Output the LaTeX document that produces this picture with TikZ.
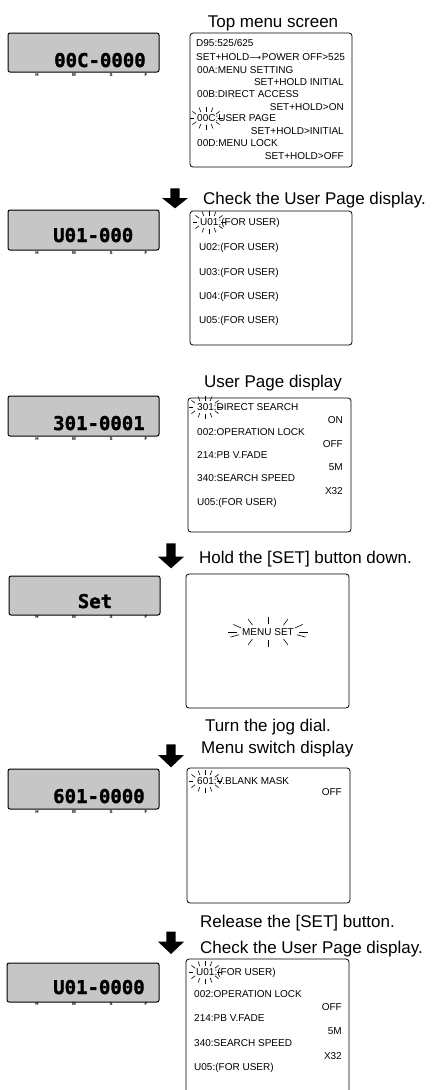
\documentclass[tikz,border=0pt]{standalone}
\usepackage{fontspec}
\setmainfont{Liberation Sans}
\newfontfamily\lcdfont{DejaVu Sans Mono}[BoldFeatures={FakeBold=1.6}]
\newfontfamily\symfont{DejaVu Sans}
\usetikzlibrary{calc,fit}
\definecolor{lcdgray}{RGB}{198,198,198}
\tikzset{
  lcd/.style={draw=black, fill=lcdgray, line width=1pt, rounded corners=2pt, inner sep=0pt},
  scr/.style={draw=black, line width=0.8pt, rounded corners=3pt, inner sep=0pt},
  st/.style={inner sep=0pt, anchor=base west, font=\fontsize{10}{10}\selectfont},
  sr/.style={st, anchor=base east},
  captext/.style={inner sep=0pt, anchor=base west, font=\fontsize{17}{18}\selectfont},
  captextc/.style={captext, anchor=base},
  digits/.style={inner sep=0pt, anchor=base west, font=\lcdfont\bfseries\fontsize{19}{19}\selectfont},
  hmsf/.style={inner sep=0pt, font=\bfseries\fontsize{4.5}{5}\selectfont},
  blinkray/.style={line width=0.6pt},
  blockarrow/.style={fill=black},
}
\newcommand{\hmsf}[2]{%
  \node[hmsf] (#1H) at (37,#2) {H};
  \node[hmsf] (#1M) at (74,#2) {M};
  \node[hmsf] (#1S) at (111,#2) {S};
  \node[hmsf] (#1F) at (146,#2) {F};}
\newcommand{\blinkrays}[7]{%
  \foreach \a in {#7}{%
    \draw[blinkray] ({#1+#3*cos(\a)},{#2-#4*sin(\a)}) -- ({#1+#5*cos(\a)},{#2-#6*sin(\a)});
  }}
\newcommand{\smallblink}[2]{\blinkrays{#1}{#2}{12}{6.5}{16.5}{11.5}{0,35,65,90,115,145,180,215,245,270,295,325}}
\newcommand{\bigdown}[4]{%
  \fill[blockarrow] (#1-4.7,#2) -- (#1+4.7,#2) -- (#1+4.7,#3) -- (#1+13,#3) -- (#1,#4) -- (#1-13,#3) -- (#1-4.7,#3) -- cycle;}
\begin{document}
\begin{tikzpicture}[x=1pt,y=-1pt]
\useasboundingbox (0,0) rectangle (434,1090);

% ---------- Block 1: top menu screen
\node[captextc] (t1) at (273,27) {Top menu screen};
\node[lcd, fit={(8,33) (159,72)}] (l1) {};
\node[digits] (d1) at (54,67) {00C-0000};
\hmsf{l1}{75.3}
\node[scr, fit={(190,33) (352,167)}] (s1) {};
\node[st] (s1a) at (196,46.5) {D95:525/625};
\node[st] (s1b) at (196,60.5) {SET+HOLD\kern0.3pt{\symfont\fontsize{8}{8}\selectfont ⟶}\kern0.8pt POWER OFF>525};
\node[st] (s1c) at (197,73.5) {00A:MENU SETTING};
\node[sr] (s1d) at (344,85.5) {SET+HOLD INITIAL};
\node[st] (s1e) at (197,97.5) {00B:DIRECT ACCESS};
\node[sr] (s1f) at (344,110.5) {SET+HOLD>ON};
\node[st] (s1g) at (197,121.5) {00C:USER PAGE};
\node[sr] (s1h) at (344,134.5) {SET+HOLD>INITIAL};
\node[st] (s1i) at (197,146.5) {00D:MENU LOCK};
\node[sr] (s1j) at (344,159.5) {SET+HOLD>OFF};
\smallblink{206}{118}

% ---------- Block 2
\bigdown{175}{188.3}{198}{208.3}
\node[captext] (c2) at (203,204) {Check the User Page display.};
\node[lcd, fit={(8,210) (159,250)}] (l2) {};
\node[digits] (d2) at (53,242) {U01-000};
\hmsf{l2}{252.7}
\node[scr, fit={(190,211) (352,345)}] (s2) {};
\node[st] (s2a) at (200,225.5) {U01:(FOR USER)};
\node[st] (s2b) at (199,250.5) {U02:(FOR USER)};
\node[st] (s2c) at (199,275.5) {U03:(FOR USER)};
\node[st] (s2d) at (199,299.5) {U04:(FOR USER)};
\node[st] (s2e) at (199,323.5) {U05:(FOR USER)};
\smallblink{209}{222}

% ---------- Block 3
\node[captextc] (t3) at (273,387.5) {User Page display};
\node[lcd, fit={(8,396) (159,436)}] (l3) {};
\node[digits] (d3) at (53,430) {301-0001};
\hmsf{l3}{439}
\node[scr, fit={(188,398) (351,532)}] (s3) {};
\node[st] (s3a) at (197,410.5) {301:DIRECT SEARCH};
\node[sr] (s3b) at (343,423.5) {ON};
\node[st] (s3c) at (197,435.5) {002:OPERATION LOCK};
\node[sr] (s3d) at (343,447.5) {OFF};
\node[st] (s3e) at (197,458.5) {214:PB V.FADE};
\node[sr] (s3f) at (343,470.5) {5M};
\node[st] (s3g) at (197,481.5) {340:SEARCH SPEED};
\node[sr] (s3h) at (343,494.5) {X32};
\node[st] (s3i) at (197,505.5) {U05:(FOR USER)};
\smallblink{205}{407}

% ---------- Block 4
\bigdown{171}{543.3}{556.7}{568.3}
\node[captext] (c4) at (199,563) {Hold the [SET] button down.};
\node[lcd, fit={(9,576) (160,615)}] (l4) {};
\node[digits, anchor=base] (d4) at (95,608) {Set};
\hmsf{l4}{617.3}
\node[scr, fit={(186,574) (349,708)}] (s4) {};
\node[st, anchor=base] (s4a) at (268,635.5) {MENU SET};
\blinkrays{268}{632}{31}{8}{40}{15}{0,30,60,90,120,150,180,200,240,270,300,340}
\node[captextc] (c5a) at (268,731) {Turn the jog dial.};

% ---------- Block 5
\bigdown{171}{744.3}{755}{767.3}
\node[captext] (c5b) at (201,753) {Menu switch display};
\node[lcd, fit={(8,769) (159,809)}] (l5) {};
\node[digits] (d5) at (53,803) {601-0000};
\hmsf{l5}{811.7}
\node[scr, fit={(187,768) (350,903)}] (s5) {};
\node[st] (s5a) at (197,784.5) {601:V.BLANK MASK};
\node[sr] (s5b) at (342,795.5) {OFF};
\smallblink{205}{781}

% ---------- Block 6
\node[captext] (c6a) at (200,927) {Release the [SET] button.};
\bigdown{171}{931.7}{941.7}{954}
\node[captext] (c6b) at (200,953) {Check the User Page display.};
\node[lcd, fit={(7,963) (159,1002)}] (l6) {};
\node[digits] (d6) at (53,994) {U01-0000};
\hmsf{l6}{1004.3}
\draw[line width=0.8pt, rounded corners=3pt] (186,1091) -- (186,959) -- (349,959) -- (349,1091);
\node[st] (s6a) at (196,975.5) {U01:(FOR USER)};
\node[st] (s6b) at (194,997.5) {002:OPERATION LOCK};
\node[sr] (s6c) at (342,1010.5) {OFF};
\node[st] (s6d) at (194,1021.5) {214:PB V.FADE};
\node[sr] (s6e) at (342,1034.5) {5M};
\node[st] (s6f) at (194,1046.5) {340:SEARCH SPEED};
\node[sr] (s6g) at (342,1059.5) {X32};
\node[st] (s6h) at (194,1070.5) {U05:(FOR USER)};
\smallblink{205}{972}
\end{tikzpicture}
\end{document}
